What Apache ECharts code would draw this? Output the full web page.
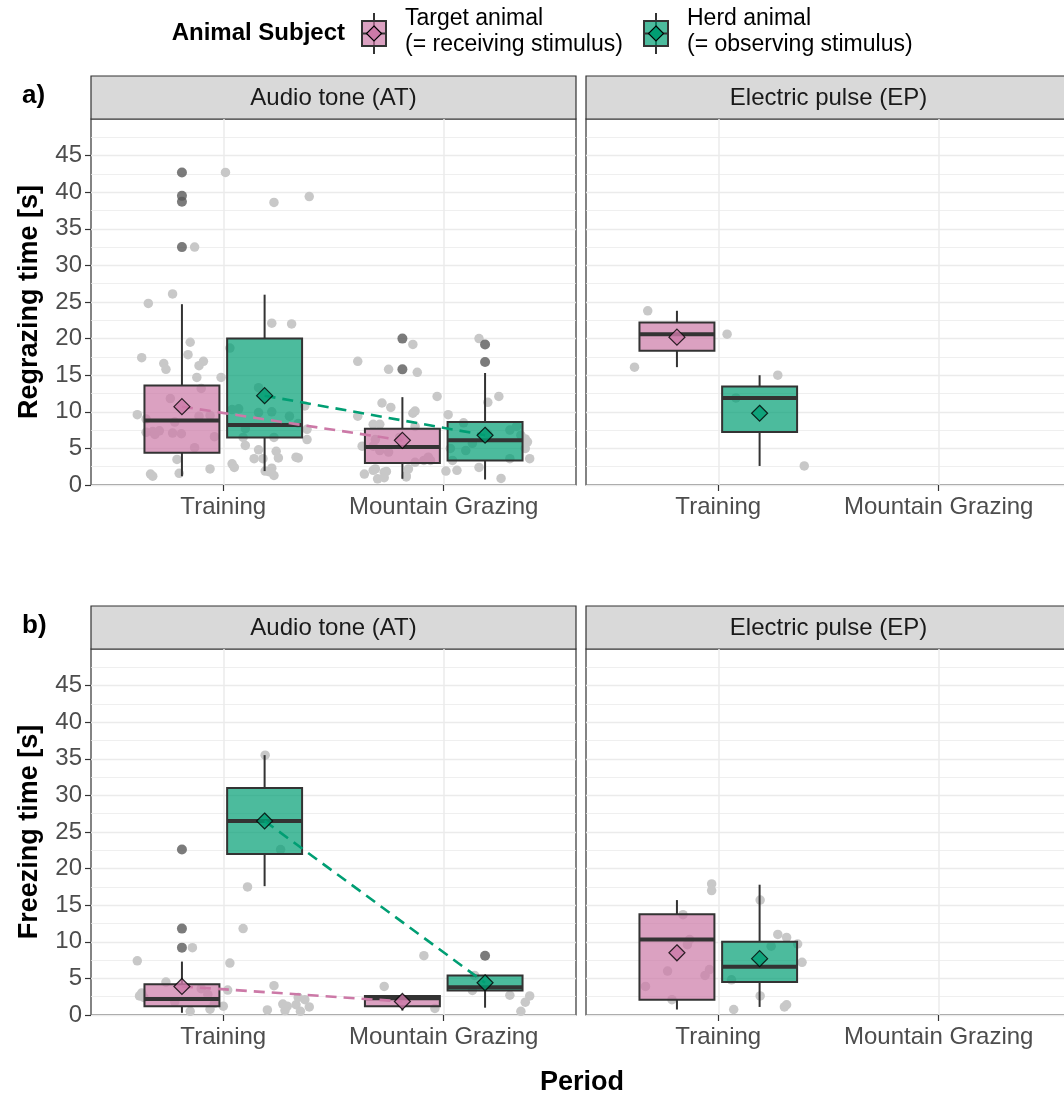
<!DOCTYPE html>
<html><head><meta charset="utf-8">
<script src="https://cdn.jsdelivr.net/npm/echarts@6/dist/echarts.min.js"></script>
<style>html,body{margin:0;padding:0;background:#fff;overflow:hidden}#c{width:1080px;height:1097px}</style>
</head><body><div id="c"></div><script>
// ---------- DATA ----------
const periods = ['Training', 'Mountain Grazing'];
const stimuli = ['Audio tone (AT)', 'Electric pulse (EP)'];
const groupLines = [['Target animal', '(= receiving stimulus)'], ['Herd animal', '(= observing stimulus)']];
const yTickValues = [0, 5, 10, 15, 20, 25, 30, 35, 40, 45];
const yTitles = ['Regrazing time [s]', 'Freezing time [s]'];
const panelTags = ['a)', 'b)'];

// box stats per period: [low whisker, Q1, median, Q3, high whisker]
const regrazeAT_target_box = [[1.2, 4.4, 8.8, 13.6, 24.7], [0.85, 3.0, 5.2, 7.7, 12.0]];
const regrazeAT_herd_box = [[1.9, 6.5, 8.2, 20.0, 26.0], [0.75, 3.35, 6.1, 8.6, 15.3]];
const regrazeEP_target_box = [[16.1, 18.35, 20.6, 22.2, 23.8]];
const regrazeEP_herd_box = [[2.6, 7.25, 11.9, 13.45, 15.0]];
const freezeAT_target_box = [[0.3, 1.2, 2.2, 4.2, 7.3], [0.6, 1.2, 2.3, 2.6, 2.6]];
const freezeAT_herd_box = [[17.6, 22.0, 26.5, 31.0, 35.5], [1.0, 3.35, 3.8, 5.4, 5.4]];
const freezeEP_target_box = [[0.75, 2.1, 10.3, 13.75, 15.7]];
const freezeEP_herd_box = [[1.1, 4.5, 6.6, 10.0, 17.8]];

// means per period
const regrazeAT_target_mean = [10.7, 6.1];
const regrazeAT_herd_mean = [12.2, 6.8];
const regrazeEP_target_mean = [20.2];
const regrazeEP_herd_mean = [9.8];
const freezeAT_target_mean = [3.9, 1.85];
const freezeAT_herd_mean = [26.5, 4.4];
const freezeEP_target_mean = [8.5];
const freezeEP_herd_mean = [7.7];

// outliers: [period index, value]
const regrazeAT_target_out = [[0, 42.7], [0, 39.5], [0, 38.7], [0, 32.5], [1, 20.0], [1, 15.8]];
const regrazeAT_herd_out = [[1, 19.2], [1, 16.8]];
const freezeAT_target_out = [[0, 22.6], [0, 11.8], [0, 9.2]];
const freezeAT_herd_out = [[1, 8.1]];

// jittered raw observations: [horizontal jitter (category units), value]
const regrazeAT_train_pts = [[0.01,42.7],[0.23,38.6],[0.39,39.4],[-0.13,32.5],[-0.23,26.1],[-0.34,24.8],[0.22,22.1],[0.31,22.0],[-0.15,19.5],[-0.16,17.8],[-0.37,17.4],[-0.27,16.6],[-0.26,15.8],[-0.09,16.9],[-0.11,16.3],[-0.12,14.7],[-0.01,14.7],[0.03,18.7],[-0.39,9.6],[-0.35,9.0],[-0.35,7.2],[-0.32,7.3],[-0.31,6.9],[-0.23,7.1],[-0.19,7.0],[-0.11,9.4],[-0.06,9.5],[-0.10,13.2],[-0.24,11.8],[-0.22,8.6],[-0.04,6.6],[-0.13,5.1],[-0.21,3.5],[-0.06,2.2],[-0.20,1.6],[-0.33,1.5],[-0.32,1.2],[0.04,2.9],[0.05,2.4],[0.16,4.8],[0.14,3.6],[0.18,3.6],[0.24,4.6],[0.25,3.7],[0.19,1.9],[0.22,2.3],[0.23,1.3],[0.21,1.8],[0.33,3.8],[0.34,3.7],[0.38,6.2],[0.38,7.6],[0.37,10.8],[0.34,8.4],[0.30,9.4],[0.23,6.5],[0.22,10.0],[0.16,9.9],[0.16,13.3],[0.07,10.4],[0.04,10.3],[0.10,7.7],[0.09,6.5],[0.10,5.4],[-0.29,7.4]];
const regrazeAT_mg_pts = [[-0.39,16.9],[-0.25,15.8],[-0.14,19.2],[-0.12,15.4],[0.16,20.0],[-0.03,12.1],[-0.28,11.2],[-0.24,10.6],[-0.39,9.4],[-0.14,9.8],[-0.13,10.1],[0.25,12.1],[0.20,11.3],[0.02,9.6],[0.09,8.5],[-0.32,8.3],[-0.29,8.3],[-0.13,8.0],[-0.37,5.3],[-0.29,4.7],[-0.25,4.5],[-0.36,1.5],[-0.32,2.0],[-0.31,2.2],[-0.27,1.75],[-0.30,0.85],[-0.27,1.0],[-0.26,1.85],[-0.17,1.1],[-0.17,1.3],[-0.16,2.2],[-0.13,3.1],[-0.09,3.35],[-0.07,3.8],[-0.06,3.35],[0.01,1.9],[0.06,2.0],[0.16,2.4],[0.26,0.9],[0.30,3.6],[0.39,3.6],[0.37,5.0],[0.38,5.9],[0.37,6.3],[0.30,7.5],[0.13,5.7],[0.10,4.7],[0.03,5.0],[0.04,3.35],[-0.32,5.3],[-0.31,6.2],[0.33,8.0],[0.20,7.0],[-0.20,6.5],[0.35,6.8]];
const regrazeEP_train_pts = [[-0.32,23.8],[0.04,20.6],[-0.38,16.1],[0.27,15.0],[0.08,11.9],[0.39,2.6]];
const freezeAT_train_pts = [[0.19,35.5],[0.26,22.6],[0.11,17.5],[0.09,11.8],[-0.14,9.2],[-0.39,7.4],[0.03,7.1],[-0.26,4.5],[0.23,4.0],[-0.37,3.0],[-0.36,2.4],[-0.07,2.8],[-0.04,1.6],[0.02,3.4],[-0.15,0.5],[-0.06,0.8],[0.0,1.2],[0.20,0.7],[0.27,1.5],[0.29,1.2],[0.28,0.6],[0.33,1.4],[0.37,2.1],[0.39,1.1],[0.35,0.5],[0.34,2.4],[-0.38,2.6],[-0.22,1.8],[-0.10,3.6]];
const freezeAT_mg_pts = [[-0.09,8.1],[-0.27,3.9],[-0.04,0.9],[0.14,5.4],[0.13,3.35],[0.30,2.7],[0.39,2.6],[0.37,1.75],[0.35,0.5]];
const freezeEP_train_pts = [[-0.03,17.9],[-0.03,17.0],[0.19,15.7],[-0.16,13.7],[0.27,11.0],[0.31,10.6],[0.36,9.7],[-0.13,10.3],[-0.14,9.6],[0.24,9.4],[0.38,7.2],[-0.23,6.0],[-0.04,6.2],[-0.06,5.4],[0.06,4.8],[-0.33,3.9],[-0.21,2.1],[0.19,2.6],[0.07,0.75],[0.30,1.1],[0.31,1.4]];

// ---------- STYLE ----------
const FONT = '"Liberation Sans", Arial, Helvetica, sans-serif';
const fillCols = ['rgba(204,121,167,0.7)', 'rgba(0,158,115,0.7)'];
const meanCols = ['#CC79A7', '#009E73'];
const DODGE = 0.1875, BOX_W = 0.34;
const GL = [91, 586], GT = [119, 649], GW = 485, GH = 366;

// panel definitions (grid index order: a-AT, a-EP, b-AT, b-EP)
const panels = [
  {box: [regrazeAT_target_box, regrazeAT_herd_box], mean: [regrazeAT_target_mean, regrazeAT_herd_mean], out: [regrazeAT_target_out, regrazeAT_herd_out], pts: [regrazeAT_train_pts, regrazeAT_mg_pts]},
  {box: [regrazeEP_target_box, regrazeEP_herd_box], mean: [regrazeEP_target_mean, regrazeEP_herd_mean], out: [[], []], pts: [regrazeEP_train_pts, []]},
  {box: [freezeAT_target_box, freezeAT_herd_box], mean: [freezeAT_target_mean, freezeAT_herd_mean], out: [freezeAT_target_out, freezeAT_herd_out], pts: [freezeAT_train_pts, freezeAT_mg_pts]},
  {box: [freezeEP_target_box, freezeEP_herd_box], mean: [freezeEP_target_mean, freezeEP_herd_mean], out: [[], []], pts: [freezeEP_train_pts, []]}
];

function renderBox(params, api) {
  const x = api.value(0), g = api.value(6);
  const pLow = api.coord([x, api.value(1)]);
  const pQ1 = api.coord([x, api.value(2)]);
  const pMed = api.coord([x, api.value(3)]);
  const pQ3 = api.coord([x, api.value(4)]);
  const pHigh = api.coord([x, api.value(5)]);
  const w = api.size([BOX_W, 0])[0];
  const ls = {stroke: '#333333', lineWidth: 2};
  return {type: 'group', children: [
    {type: 'line', shape: {x1: pLow[0], y1: pLow[1], x2: pQ1[0], y2: pQ1[1]}, style: ls},
    {type: 'line', shape: {x1: pQ3[0], y1: pQ3[1], x2: pHigh[0], y2: pHigh[1]}, style: ls},
    {type: 'rect', shape: {x: pQ3[0] - w / 2, y: pQ3[1], width: w, height: pQ1[1] - pQ3[1]}, style: {fill: fillCols[g], stroke: '#333333', lineWidth: 2}},
    {type: 'line', shape: {x1: pMed[0] - w / 2, y1: pMed[1], x2: pMed[0] + w / 2, y2: pMed[1]}, style: {stroke: '#333333', lineWidth: 4}}
  ]};
}

const grids = [], xAxes = [], yAxes = [], series = [];
for (let i = 0; i < 4; i++) {
  const col = i % 2, row = Math.floor(i / 2);
  grids.push({left: GL[col], top: GT[row], width: GW, height: GH, show: true, borderColor: '#333333', borderWidth: 1.2, backgroundColor: '#ffffff', containLabel: false});
  xAxes.push({
    gridIndex: i, type: 'value', min: 0.4, max: 2.6,
    axisLine: {show: false},
    axisTick: {show: true, customValues: [1, 2], length: 6, lineStyle: {color: '#333333', width: 1.2}},
    axisLabel: {customValues: [1, 2], formatter: v => periods[Math.round(v) - 1], fontSize: 24, color: '#4d4d4d', fontFamily: FONT, margin: 10},
    splitLine: {show: true, lineStyle: {color: '#ebebeb', width: 1.5}}
  });
  yAxes.push({
    gridIndex: i, type: 'value', min: 0, max: 50, interval: 5,
    axisLine: {show: false},
    axisTick: {show: col === 0, customValues: yTickValues, length: 6, lineStyle: {color: '#333333', width: 1.2}},
    axisLabel: {show: col === 0, customValues: yTickValues, fontSize: 24, color: '#4d4d4d', fontFamily: FONT, margin: 9},
    splitLine: {show: true, lineStyle: {color: '#ebebeb', width: 1.4}},
    minorTick: {show: false, splitNumber: 2},
    minorSplitLine: {show: true, lineStyle: {color: '#ebebeb', width: 0.8}},
    name: col === 0 ? yTitles[row] : '', nameLocation: 'middle', nameGap: 48,
    nameTextStyle: {fontSize: 27, fontWeight: 'bold', color: '#000000', fontFamily: FONT}
  });

  const P = panels[i];
  // jitter points
  const ptsData = [];
  P.pts.forEach((arr, k) => arr.forEach(p => ptsData.push([k + 1 + p[0], p[1]])));
  series.push({type: 'scatter', xAxisIndex: i, yAxisIndex: i, data: ptsData, symbol: 'circle', symbolSize: 9.5, itemStyle: {color: '#c8c8c8', opacity: 1}, z: 1, silent: true});
  // boxes
  const boxData = [];
  P.box.forEach((arr, g) => arr.forEach((b, k) => boxData.push([k + 1 + (g === 0 ? -DODGE : DODGE), b[0], b[1], b[2], b[3], b[4], g])));
  series.push({type: 'custom', xAxisIndex: i, yAxisIndex: i, data: boxData, renderItem: renderBox, encode: {x: 0, y: [1, 2, 3, 4, 5]}, z: 2, silent: true});
  // outliers
  const outData = [];
  P.out.forEach((arr, g) => arr.forEach(o => outData.push([o[0] + 1 + (g === 0 ? -DODGE : DODGE), o[1]])));
  series.push({type: 'scatter', xAxisIndex: i, yAxisIndex: i, data: outData, symbol: 'circle', symbolSize: 10, itemStyle: {color: '#5a5a5a'}, z: 3, silent: true});
  // mean lines and diamonds
  P.mean.forEach((arr, g) => {
    const d = arr.map((m, k) => [k + 1 + (g === 0 ? -DODGE : DODGE), m]);
    if (d.length > 1) {
      series.push({type: 'line', xAxisIndex: i, yAxisIndex: i, data: d, showSymbol: false, symbol: 'none', lineStyle: {color: meanCols[g], width: 2.6, type: [11, 7]}, z: 4, silent: true});
    }
    series.push({type: 'scatter', xAxisIndex: i, yAxisIndex: i, data: d, symbol: 'diamond', symbolSize: 16, itemStyle: {color: meanCols[g], borderColor: '#000000', borderWidth: 1.2}, z: 5, silent: true});
  });
}

// ---------- GRAPHICS (strips, labels, legend) ----------
const gfx = [];
for (let row = 0; row < 2; row++) {
  for (let col = 0; col < 2; col++) {
    const sy = GT[row] - 43;
    gfx.push({type: 'rect', shape: {x: GL[col], y: sy, width: GW, height: 43}, style: {fill: '#d9d9d9', stroke: '#333333', lineWidth: 1.2}, silent: true});
    gfx.push({type: 'text', style: {x: GL[col] + GW / 2, y: sy + 22, text: stimuli[col], font: '24px ' + FONT, fill: '#1a1a1a', align: 'center', verticalAlign: 'middle'}, silent: true});
  }
  gfx.push({type: 'text', style: {x: 22, y: GT[row] - 23, text: panelTags[row], font: 'bold 26px ' + FONT, fill: '#000', align: 'left', verticalAlign: 'middle'}, silent: true});
}
gfx.push({type: 'text', style: {x: 582, y: 1083, text: 'Period', font: 'bold 27px ' + FONT, fill: '#000', align: 'center', verticalAlign: 'middle'}, silent: true});
gfx.push({type: 'text', style: {x: 345, y: 33, text: 'Animal Subject', font: 'bold 24px ' + FONT, fill: '#000', align: 'right', verticalAlign: 'middle'}, silent: true});
const keyX = [362, 644], textX = [405, 687];
for (let g = 0; g < 2; g++) {
  const cx = keyX[g] + 12;
  gfx.push({type: 'line', shape: {x1: cx, y1: 13, x2: cx, y2: 54}, style: {stroke: '#333333', lineWidth: 2}, silent: true});
  gfx.push({type: 'rect', shape: {x: keyX[g], y: 21, width: 24, height: 25}, style: {fill: fillCols[g], stroke: '#333333', lineWidth: 2}, silent: true});
  gfx.push({type: 'line', shape: {x1: keyX[g], y1: 33.5, x2: keyX[g] + 24, y2: 33.5}, style: {stroke: '#333333', lineWidth: 2}, silent: true});
  gfx.push({type: 'polygon', shape: {points: [[cx, 26], [cx + 7.5, 33.5], [cx, 41], [cx - 7.5, 33.5]]}, style: {fill: meanCols[g], stroke: '#000', lineWidth: 1.2}, silent: true});
  gfx.push({type: 'text', style: {x: textX[g], y: 19, text: groupLines[g][0], font: '23px ' + FONT, fill: '#000', align: 'left', verticalAlign: 'middle'}, silent: true});
  gfx.push({type: 'text', style: {x: textX[g], y: 45, text: groupLines[g][1], font: '23px ' + FONT, fill: '#000', align: 'left', verticalAlign: 'middle'}, silent: true});
}

const chart = echarts.init(document.getElementById('c'), null, {renderer: 'canvas'});
chart.setOption({
  animation: false,
  backgroundColor: '#ffffff',
  textStyle: {fontFamily: FONT},
  grid: grids, xAxis: xAxes, yAxis: yAxes, series: series,
  graphic: {elements: gfx}
});
</script></body></html>
